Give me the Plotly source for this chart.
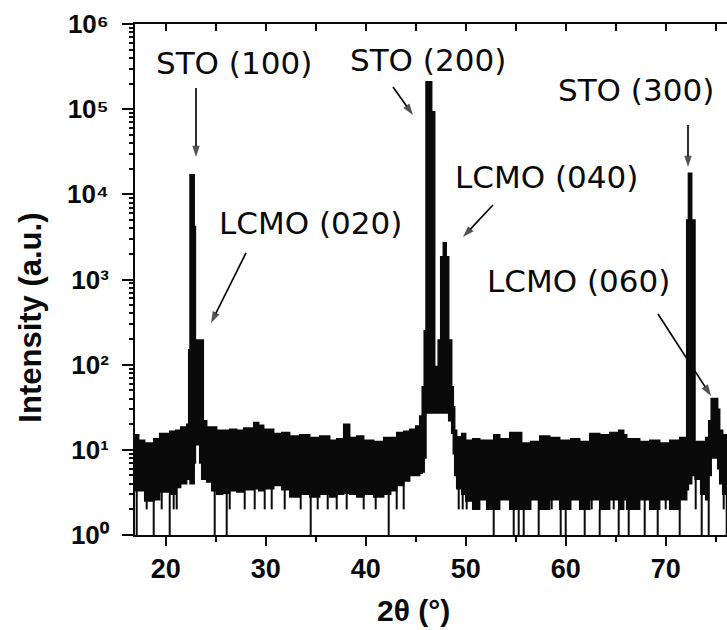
import numpy as np
import plotly.graph_objects as go

# XRD theta-2theta scan of an LCMO film on SrTiO3.
# Scan nodes (2theta, deg) with the upper / lower envelope of the counts
# held until the next node.
two_theta = [16.5, 17.3, 17.9, 18.8, 19.4, 20.4, 21.0, 21.5, 22.1, 22.3,
             22.43, 22.85, 22.97, 23.4, 23.6, 23.76, 24.1, 24.6, 25.1, 25.7,
             26.4, 27.1, 27.8, 28.8, 29.3, 29.8, 30.8, 31.6, 32.4, 33.4,
             34.4, 35.4, 36.4, 37.1, 37.8, 38.4, 39.1, 39.8, 40.8, 41.8,
             42.5, 43.1, 43.8, 44.4, 45.0, 45.4, 45.65, 45.85, 46.03, 46.6,
             46.9, 47.25, 47.5, 47.76, 48.05, 48.3, 48.6, 48.76, 48.9, 49.1,
             49.6, 50.0, 50.7, 51.4, 52.1, 52.8, 53.4, 54.4, 55.6, 56.5,
             57.4, 58.4, 59.4, 60.5, 61.4, 62.4, 63.4, 64.4, 65.3, 65.8,
             66.1, 67.4, 68.4, 69.4, 70.4, 71.4, 72.1, 72.27, 72.6, 72.93,
             73.5, 74.0, 74.3, 74.55, 74.95, 75.2, 75.4, 75.7, 77.0]
i_max = [15, 13, 12, 13.5, 15.5, 16.5, 17, 18.5, 20, 150,
         17000, 4200, 195, 195, 195, 22, 18.5, 18.5, 17, 17,
         17.5, 17, 18, 21, 19.5, 17.5, 15.5, 16, 14.5, 15,
         14, 14.5, 13, 13.5, 20, 14, 14.5, 13, 12.5, 14,
         14, 16, 16.5, 17.5, 19, 25, 55, 250, 210000, 93000,
         95, 195, 1850, 2700, 1850, 195, 55, 32, 17, 14.2,
         15.5, 13, 13.5, 13, 13, 15, 13.5, 16, 12, 12.5,
         14.5, 14, 13, 13.5, 12.5, 15.5, 15, 16, 17, 15,
         13.5, 12.5, 13, 12, 13, 14, 5000, 17700, 5000, 12.5,
         12.5, 14, 22, 40, 40, 30, 17, 15, 15]
i_min = [3.3, 3.3, 2.5, 2.6, 3.2, 3.0, 3.6, 4.0, 4.5, 4.5,
         4.0, 7.0, 11.5, 7.0, 4.5, 4.5, 4.2, 3.3, 3.0, 3.1,
         3.3, 3.2, 3.4, 3.5, 3.3, 3.5, 3.8, 3.4, 2.8, 3.0,
         2.8, 3.0, 2.8, 3.0, 3.1, 3.0, 2.8, 3.0, 2.8, 3.0,
         3.3, 3.8, 4.3, 5.0, 5.0, 5.3, 5.5, 8, 27, 27,
         27, 27, 27, 27, 27, 22, 15.7, 9, 5, 3.5,
         3.0, 2.5, 2.0, 2.6, 2.0, 2.0, 2.6, 2.0, 2.0, 2.6,
         2.0, 2.6, 2.0, 2.6, 2.0, 2.6, 2.0, 2.6, 2.0, 2.6,
         2.0, 2.6, 2.0, 2.6, 2.0, 2.6, 3.4, 4.0, 5.0, 4.5,
         3.0, 2.6, 5.0, 8.0, 8.0, 6.0, 4.0, 3.0, 3.0]

# Single channels where the counts fall to 2 or to the floor (1)
dip_2theta = [17.1, 18.8, 20.4, 24.9, 26.1, 34.5, 42.3, 52.8, 54.8, 55.3,
              55.8, 57.3, 59.5, 60.0, 61.9, 63.4, 65.3, 66.3, 67.9, 69.2,
              71.4, 73.6, 74.3, 76.1,
              18.1, 19.6, 20.8, 21.1, 26.4, 27.9, 28.9, 29.9, 30.6, 31.9,
              33.5, 35.2, 36.2, 37.1, 38.1, 39.8, 41.0, 43.1, 43.8, 49.3,
              49.7, 50.1, 50.8, 57.8, 58.6, 60.4, 62.6, 63.9, 64.8, 66.7,
              68.4, 70.0, 73.0, 75.8]
dip_counts = [1] * 24 + [2] * 34

# Reflection labels: text, label anchor (2theta, I), arrow tail and tip (2theta, I)
peak_labels = ["STO (100)", "STO (200)", "STO (300)",
               "LCMO (020)", "LCMO (040)", "LCMO (060)"]
label_pos = [(26.83, 3.5e5), (46.23, 3.8e5), (67.03, 1.7e5),
             (34.43, 4.6e3), (58.03, 1.6e4), (61.23, 9.6e2)]
arrow_tail = [(23.03, 1.77e5), (42.73, 1.82e5), (72.23, 6.52e4),
              (28.03, 2.05e3), (52.73, 7.5e3), (69.23, 3.94e2)]
arrow_tip = [(23.03, 2.74e4), (44.73, 8.53e4), (72.23, 2.09e4),
             (24.53, 3.09e2), (49.73, 3.15e3), (74.53, 4.29e1)]

x_ticks = [20, 30, 40, 50, 60, 70]
y_ticks = [1, 10, 100, 1e3, 1e4, 1e5, 1e6]
y_ticktext = ["10⁰", "10¹", "10²", "10³", "10⁴", "10⁵", "10⁶"]
# minor ticks at 2..9 within each decade
y_minor = [m * 10.0 ** d for d in range(6) for m in range(2, 10)]

INK = "#0a0a0a"
BOLD = dict(family="Liberation Sans, Arial, sans-serif", color=INK, weight="bold")
LABEL_FONT = dict(family="DejaVu Sans, sans-serif", size=31, color=INK)
X_RANGE = [16.93, 76.13]
Y_RANGE = [0, 6]

fig = go.Figure()

# lower envelope, then the upper envelope filled down to it
fig.add_trace(go.Scatter(x=two_theta, y=i_min, mode="lines",
                         line=dict(shape="hv", color=INK, width=1.5),
                         hoverinfo="skip", showlegend=False))
fig.add_trace(go.Scatter(x=two_theta, y=i_max, mode="lines",
                         line=dict(shape="hv", color=INK, width=1.5),
                         fill="tonexty", fillcolor=INK,
                         hoverinfo="skip", showlegend=False))

# drop-outs: vertical strokes from the lower envelope down to the count
nodes = np.asarray(two_theta)
seg_x, seg_y = [], []
for x, c in zip(dip_2theta, dip_counts):
    idx = max(int(np.searchsorted(nodes, x, side="right")) - 1, 0)
    seg_x += [x, x, None]
    seg_y += [i_min[idx], c, None]
fig.add_trace(go.Scatter(x=seg_x, y=seg_y, mode="lines",
                         line=dict(color=INK, width=2),
                         xaxis="x2", yaxis="y2",
                         hoverinfo="skip", showlegend=False))

# reflection markers: a thin shaft with an arrowhead at the peak end
for (tx, ty), (hx, hy) in zip(arrow_tail, arrow_tip):
    fig.add_trace(go.Scatter(x=[tx, hx], y=[ty, hy], mode="lines+markers",
                             line=dict(color=INK, width=1.7),
                             marker=dict(symbol=["circle", "arrow"], size=[0, 12],
                                         angleref="previous", color=INK,
                                         line=dict(width=0)),
                             xaxis="x2", yaxis="y2",
                             hoverinfo="skip", showlegend=False))

annotations = []
for text, (lx, ly) in zip(peak_labels, label_pos):
    annotations.append(dict(x=lx, y=np.log10(ly), xref="x", yref="y", text=text,
                            showarrow=False, font=LABEL_FONT,
                            xanchor="center", yanchor="middle"))
annotations.append(dict(x=0.4696, y=-0.147, xref="paper", yref="paper",
                        text="2θ (°)", showarrow=False,
                        font=dict(BOLD, size=30), xanchor="center", yanchor="middle"))
annotations.append(dict(x=-0.176, y=0.425, xref="paper", yref="paper",
                        text="Intensity (a.u.)", showarrow=False, textangle=-90,
                        font=dict(BOLD, size=31), xanchor="center", yanchor="middle"))

fig.update_layout(
    width=727, height=630,
    margin=dict(l=135, r=0, t=24, b=95),
    paper_bgcolor="white", plot_bgcolor="white",
    showlegend=False,
    annotations=annotations,
    xaxis=dict(range=X_RANGE, tickvals=x_ticks, ticks="outside",
               ticklen=9, tickwidth=2, tickcolor=INK,
               showline=True, linewidth=2, linecolor=INK, mirror=True,
               showgrid=False, zeroline=False,
               tickfont=dict(BOLD, size=27),
               minor=dict(tick0=0, dtick=5, ticks="outside", ticklen=5,
                          tickwidth=2, tickcolor=INK, showgrid=False)),
    xaxis2=dict(range=X_RANGE, overlaying="x", side="top", anchor="y",
                tick0=0, dtick=5, ticks="inside", ticklen=7, tickwidth=2,
                tickcolor=INK, showticklabels=False,
                showline=True, linewidth=2, linecolor=INK,
                showgrid=False, zeroline=False),
    yaxis=dict(type="log", range=Y_RANGE, tickvals=y_ticks, ticktext=y_ticktext,
               ticks="outside", ticklen=11, tickwidth=2, tickcolor=INK,
               ticklabelstandoff=8,
               showline=True, linewidth=2, linecolor=INK,
               showgrid=False, zeroline=False,
               tickfont=dict(BOLD, size=26)),
    yaxis2=dict(type="log", range=Y_RANGE, overlaying="y", side="left",
                tickvals=y_minor, ticks="outside", ticklen=5, tickwidth=1.5,
                tickcolor=INK, showticklabels=False,
                showline=False, showgrid=False, zeroline=False),
)

fig.write_html("out.html")
